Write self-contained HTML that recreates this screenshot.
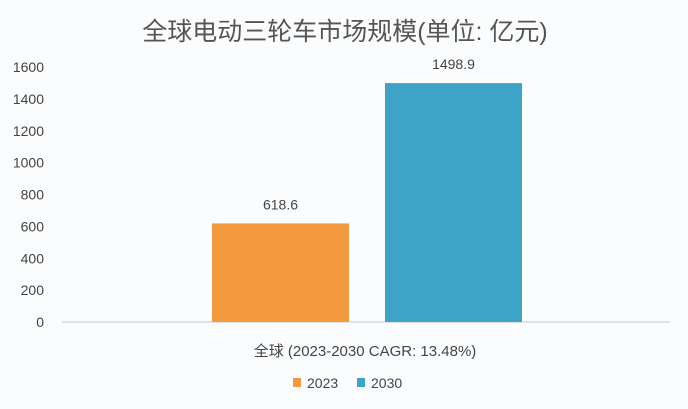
<!DOCTYPE html>
<html><head><meta charset="utf-8"><style>
body{margin:0;background:#fbfcfd;width:688px;height:404px;overflow:hidden;}
svg text{font-family:"Liberation Sans","Noto Sans CJK SC",sans-serif;}
</style></head><body>
<svg width="688" height="404">
<rect width="688" height="404" fill="#fbfcfd"/>
<text x="345" y="40" font-size="25" text-anchor="middle" fill="#555" font-family="'Noto Serif CJK SC',serif">全球电动三轮车市场规模(单位: 亿元)</text>
<g id="yaxis"></g>
<line x1="62" y1="322" x2="670" y2="322" stroke="#d9d9d9" stroke-width="1.5"/>
<g id="bars"></g>
<text x="365" y="356" font-size="15" text-anchor="middle" fill="#444">全球 (2023-2030 CAGR: 13.48%)</text>
<rect x="293" y="378" width="8" height="9" fill="#f39a3f"/>
<text x="307" y="388" font-size="14" fill="#444">2023</text>
<rect x="357" y="378" width="8" height="9" fill="#3da4c8"/>
<text x="371" y="388" font-size="14" fill="#444">2030</text>
</svg>
<script>
const seriesNames=["2023","2030"];
const seriesValues=[618.6,1498.9];
const valueLabels=["618.6","1498.9"];
const tickValues=[0,200,400,600,800,1000,1200,1400,1600];
const colors=["#f39a3f","#3da4c8"];
const y0=322,ppu=(322-67)/1600;
function yScale(v){return y0-v*ppu;}
const NS="http://www.w3.org/2000/svg";
const ya=document.getElementById('yaxis');
tickValues.forEach(t=>{
  const tx=document.createElementNS(NS,'text');
  
  
  tx.setAttribute('x',44);tx.setAttribute('y',yScale(t)+5);
  tx.setAttribute('text-anchor','end');tx.setAttribute('font-size','14');tx.setAttribute('fill','#444');
  tx.textContent=t;ya.appendChild(tx);
});
const bg=document.getElementById('bars');
const bx=[212,385],bw=137;
seriesValues.forEach((v,i)=>{
  const r=document.createElementNS(NS,'rect');
  
  
  r.setAttribute('x',bx[i]);r.setAttribute('y',yScale(v));
  r.setAttribute('width',bw);r.setAttribute('height',y0-yScale(v));
  r.setAttribute('fill',colors[i]);bg.appendChild(r);
  const l=document.createElementNS(NS,'text');
  
  
  l.setAttribute('x',bx[i]+bw/2);l.setAttribute('y',yScale(v)-14);
  l.setAttribute('text-anchor','middle');l.setAttribute('font-size','14');l.setAttribute('fill','#444');
  l.textContent=valueLabels[i];bg.appendChild(l);
});
</script>
</body></html>
